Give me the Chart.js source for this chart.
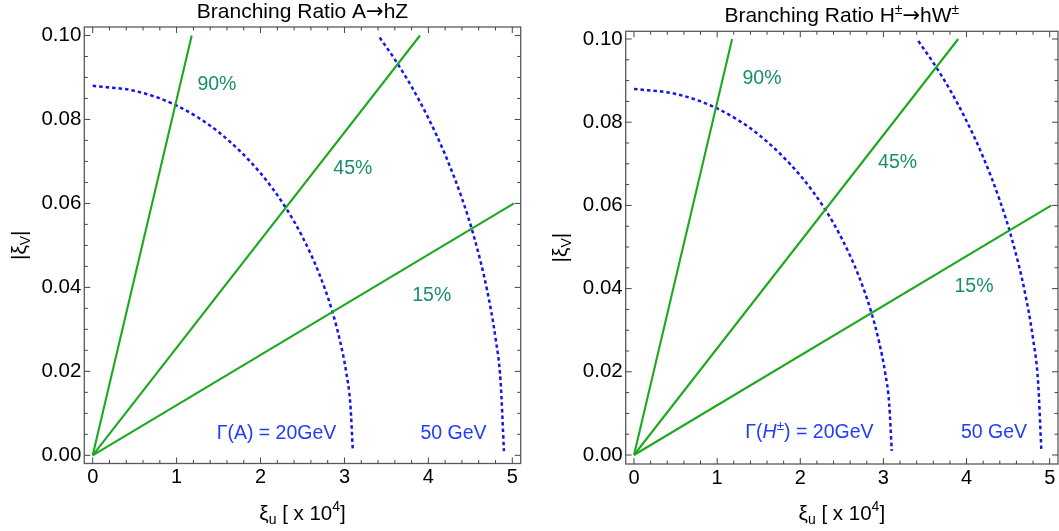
<!DOCTYPE html>
<html><head><meta charset="utf-8">
<script src="https://cdn.jsdelivr.net/npm/chart.js@4.4.0/dist/chart.umd.min.js"></script>
<style>
html,body{margin:0;padding:0;background:#fff;overflow:hidden;}
.wrap{position:absolute;top:0;height:531px;}
</style></head><body>
<div class="wrap" style="left:0;width:530px"><canvas id="c1"></canvas></div>
<div class="wrap" style="left:530px;width:529px"><canvas id="c2"></canvas></div>
<script>
// ---- data ----
const xTicks = [0, 1, 2, 3, 4, 5];
const yTicks = [0, 0.02, 0.04, 0.06, 0.08, 0.10];
const ratio90 = [{x:0, y:0}, {x:1.18, y:0.100}];
const ratio45 = [{x:0, y:0}, {x:3.90, y:0.100}];
const ratio15 = [{x:0, y:0}, {x:5.02, y:0.060}];
const width20 = [
  {x:0.00,y:0.0880},{x:0.50,y:0.0868},{x:1.00,y:0.0833},{x:1.50,y:0.0770},
  {x:2.00,y:0.0672},{x:2.30,y:0.0590},{x:2.50,y:0.0520},{x:2.70,y:0.0432},
  {x:2.85,y:0.0346},{x:2.95,y:0.0270},{x:3.02,y:0.0199},{x:3.07,y:0.0122},
  {x:3.10,y:0.0010}
];
const width50 = [
  {x:3.42,y:0.0995},{x:3.60,y:0.0943},{x:3.80,y:0.0878},{x:4.00,y:0.0803},
  {x:4.20,y:0.0716},{x:4.40,y:0.0612},{x:4.55,y:0.0516},{x:4.70,y:0.0393},
  {x:4.80,y:0.0279},{x:4.86,y:0.0177},{x:4.90,y:0.0010}
];
const ratioLabels = ['90%', '45%', '15%'];

// ---- styling / layout ----
const FONT = '"Liberation Sans", Arial, Helvetica, sans-serif';
const ARROWFONT = '"DejaVu Sans", sans-serif';
const GREEN = '#1ea81e', GREEN_TXT = '#17906a', BLUE = '#1414f0', BLUE_TXT = '#1f3cff';
const H = 531;

function drawRich(ctx, parts, x, y, align, color) {
  let w = 0;
  const f = p => `${p.st||''} ${p.s}px ${p.f||FONT}`;
  parts.forEach(p => { ctx.font = f(p); p.w = ctx.measureText(p.t).width; w += p.w; });
  let cx = align === 'center' ? x - w/2 : (align === 'right' ? x - w : x);
  ctx.fillStyle = color; ctx.textAlign = 'left'; ctx.textBaseline = 'alphabetic';
  parts.forEach(p => { ctx.font = f(p); ctx.fillText(p.t, cx, y + (p.dy||0)); cx += p.w; });
}

function makeChart(id, geo) {
  const frame = {
    id: 'frame',
    afterDatasetsDraw(chart) {
      const ctx = chart.ctx, a = chart.chartArea, xs = chart.scales.x, ys = chart.scales.y;
      ctx.save();
      // annotations
      geo.pctPos.forEach((p, i) => {
        drawRich(ctx, [{t: ratioLabels[i], s: 19.5}], xs.getPixelForValue(p[0]), ys.getPixelForValue(p[1]) + 7, 'center', GREEN_TXT);
      });
      drawRich(ctx, geo.gammaParts, xs.getPixelForValue(geo.gammaPos[0]), ys.getPixelForValue(geo.gammaPos[1]) + 7, 'center', BLUE_TXT);
      drawRich(ctx, [{t:'50 GeV', s:19.5}], xs.getPixelForValue(geo.gev50Pos[0]), ys.getPixelForValue(geo.gev50Pos[1]) + 7, 'center', BLUE_TXT);
      // frame
      ctx.strokeStyle = '#5a5a5a'; ctx.lineWidth = 1.3;
      ctx.strokeRect(a.left, a.top, a.right - a.left, a.bottom - a.top);
      // ticks
      ctx.lineWidth = 1; ctx.strokeStyle = '#444';
      ctx.beginPath();
      for (let k = 0; k <= 25; k++) {
        const v = k * 0.2, len = (k % 5 === 0) ? 6 : 3.5, px = xs.getPixelForValue(v);
        ctx.moveTo(px, a.bottom); ctx.lineTo(px, a.bottom - len);
        ctx.moveTo(px, a.top); ctx.lineTo(px, a.top + len);
      }
      for (let k = 0; k <= 20; k++) {
        const v = k * 0.005, len = (k % 4 === 0) ? 6 : 3.5, py = ys.getPixelForValue(v);
        ctx.moveTo(a.left, py); ctx.lineTo(a.left + len, py);
        ctx.moveTo(a.right, py); ctx.lineTo(a.right - len, py);
      }
      ctx.stroke();
      // titles
      const cx = (a.left + a.right) / 2;
      drawRich(ctx, geo.titleParts, cx, geo.titleBase, 'center', '#000');
      drawRich(ctx, [{t:'ξ', s:21}, {t:'u', s:14, dy:4}, {t:' [ x 10', s:20.5}, {t:'4', s:14, dy:-9}, {t:']', s:20.5}], cx, 520, 'center', '#000');
      ctx.save();
      ctx.translate(geo.yTitleX, (a.top + a.bottom) / 2);
      ctx.rotate(-Math.PI/2);
      drawRich(ctx, [{t:'|ξ', s:21}, {t:'V', s:14, dy:4}, {t:'|', s:21}], 0, 0, 'center', '#000');
      ctx.restore();
      ctx.restore();
    }
  };
  const line = (data, color, dash) => ({
    data, showLine: true, pointRadius: 0, borderColor: color, borderWidth: dash ? 2.5 : 2.1,
    borderDash: dash || [], fill: false, tension: dash ? 0.4 : 0, cubicInterpolationMode: dash ? 'monotone' : 'default'
  });
  return new Chart(document.getElementById(id), {
    type: 'scatter',
    data: { datasets: [
      line(ratio90, GREEN), line(ratio45, GREEN), line(ratio15, GREEN),
      line(width20, BLUE, [3.5, 3]), line(width50, BLUE, [3.5, 3])
    ]},
    options: {
      responsive: true, maintainAspectRatio: false, animation: false,
      layout: { padding: { left: 0, top: geo.area.t, right: geo.w - geo.area.r, bottom: 0 } },
      plugins: { legend: { display: false }, tooltip: { enabled: false }, title: { display: false } },
      scales: {
        x: {
          type: 'linear', min: -0.1, max: 5.1,
          afterBuildTicks: s => { s.ticks = xTicks.map(v => ({ value: v })); },
          afterFit: s => { s.height = H - geo.area.b; },
          grid: { display: false, drawTicks: false }, border: { display: false },
          ticks: { font: { family: FONT, size: 20 }, color: '#000', padding: 2, maxRotation: 0, autoSkip: false, callback: v => String(v) }
        },
        y: {
          type: 'linear', min: geo.ymin, max: geo.ymax,
          afterBuildTicks: s => { s.ticks = yTicks.map(v => ({ value: v })); },
          afterFit: s => { s.width = geo.area.l; },
          grid: { display: false, drawTicks: false }, border: { display: false },
          ticks: { font: { family: FONT, size: 20.5 }, color: '#000', padding: 3, autoSkip: false, callback: v => Number(v).toFixed(2) }
        }
      }
    },
    plugins: [frame]
  });
}

makeChart('c1', {
  w: 530, area: { l: 84.3, r: 520.7, t: 27, b: 463.5 }, ymin: -0.00195, ymax: 0.10202,
  titleBase: 18, yTitleX: 26,
  titleParts: [{t:'Branching Ratio A', s:21}, {t:'→', s:21, f:ARROWFONT}, {t:'hZ', s:21}],
  pctPos: [[1.48, 0.0886], [3.10, 0.0687], [4.04, 0.0385]],
  gammaParts: [{t:'Γ(A) = 20GeV', s:19.5}], gammaPos: [2.19, 0.0056], gev50Pos: [4.30, 0.0056]
});
makeChart('c2', {
  w: 529, area: { l: 95.7, r: 528, t: 31.3, b: 464 }, ymin: -0.00216, ymax: 0.10185,
  titleBase: 21.5, yTitleX: 37,
  titleParts: [{t:'Branching Ratio H', s:21}, {t:'±', s:14, dy:-8}, {t:'→', s:21, f:ARROWFONT}, {t:'hW', s:21}, {t:'±', s:14, dy:-8}],
  pctPos: [[1.54, 0.0909], [3.17, 0.0707], [4.09, 0.0409]],
  gammaParts: [{t:'Γ(', s:19.5}, {t:'H', s:19.5, st:'italic'}, {t:'±', s:13.5, dy:-8}, {t:') = 20GeV', s:19.5}], gammaPos: [2.11, 0.0058], gev50Pos: [4.33, 0.0058]
});
</script>
</body></html>
